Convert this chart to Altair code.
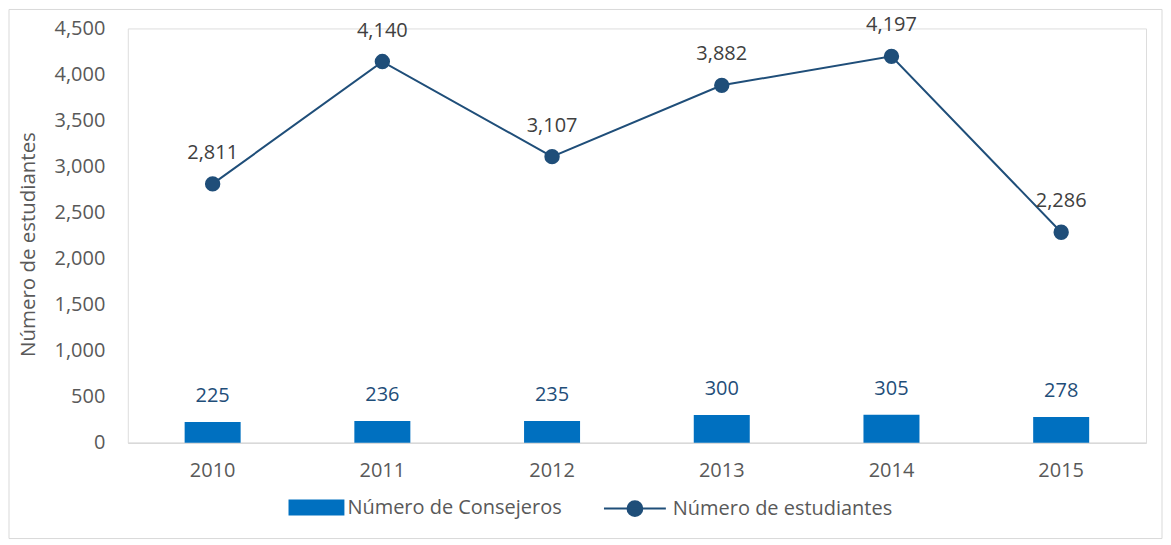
import altair as alt
import pandas as pd

years = ["2010", "2011", "2012", "2013", "2014", "2015"]
consejeros = [225, 236, 235, 300, 305, 278]
estudiantes = [2811, 4140, 3107, 3882, 4197, 2286]
y_ticks = [0, 500, 1000, 1500, 2000, 2500, 3000, 3500, 4000, 4500]

BAR = "#0070C0"
NAVY = "#1F4E79"
FONT = "Open Sans"
FS = 20

df = pd.DataFrame({
    "year": years,
    "consejeros": consejeros,
    "estudiantes": estudiantes,
    "s1": ["Número de Consejeros"] * len(years),
    "s2": ["Número de estudiantes"] * len(years),
})

x = alt.X("year:N", title=None,
          scale=alt.Scale(paddingInner=0.67, paddingOuter=0.335),
          axis=alt.Axis(labelAngle=0, ticks=False, domainColor="#D9D9D9", domainWidth=1.5,
                        labelPadding=18, labelFontSize=FS, labelColor="#595959", labelFont=FONT))
yscale = alt.Scale(domain=[0, 4500], nice=False)
yaxis = alt.Axis(values=y_ticks, format=",.0f", grid=False, ticks=False, domain=False,
                 labelPadding=23, labelFontSize=FS, labelColor="#595959", labelFont=FONT,
                 title="Número de estudiantes", titleFontSize=20.5, titleFont=FONT,
                 titleColor="#595959", titleFontWeight="normal",
                 titleX=-99, titleY=216, titleBaseline="middle", titleAlign="center")

rect_path = "M-1,-0.2857H1V0.2857H-1Z"
line_path = "M-1,0H1M0.24,0A0.24,0.24,0,1,1,-0.24,0A0.24,0.24,0,1,1,0.24,0Z"

frame = alt.Chart(alt.Data(values=[{}])).mark_rect(fill=None, stroke="#D9D9D9", strokeWidth=1).encode(
    x=alt.value(-119), x2=alt.value(1036), y=alt.value(-19), y2=alt.value(511)
)

bars = alt.Chart(df).mark_bar().encode(
    x=x,
    y=alt.Y("consejeros:Q", scale=yscale, axis=yaxis),
    color=alt.Color("s1:N", scale=alt.Scale(range=[BAR]),
                    legend=alt.Legend(title=None, orient="none", legendX=161, legendY=452,
                                      symbolType=rect_path, symbolSize=3136, symbolStrokeWidth=0,
                                      labelFontSize=FS, labelFont=FONT, labelColor="#595959",
                                      labelOffset=3, labelLimit=400, padding=0)),
)

bar_labels = alt.Chart(df).mark_text(dy=-26, fontSize=FS, font=FONT, color=NAVY).encode(
    x=x, y=alt.Y("consejeros:Q", scale=yscale), text=alt.Text("consejeros:Q", format=",.0f")
)

line = alt.Chart(df).mark_line(
    strokeWidth=2,
    point=alt.OverlayMarkDef(filled=True, fill=NAVY, size=180),
).encode(
    x=x,
    y=alt.Y("estudiantes:Q", scale=yscale),
    stroke=alt.Stroke("s2:N", scale=alt.Scale(range=[NAVY]),
                      legend=alt.Legend(title=None, orient="none", legendX=476, legendY=449,
                                        symbolType=line_path, symbolSize=3844, symbolStrokeWidth=2,
                                        symbolFillColor=NAVY,
                                        labelFontSize=FS, labelFont=FONT, labelColor="#595959",
                                        labelOffset=6, labelLimit=400, padding=0)),
)

line_labels = alt.Chart(df).mark_text(dy=-31, fontSize=FS, font=FONT, color="#404040").encode(
    x=x, y=alt.Y("estudiantes:Q", scale=yscale), text=alt.Text("estudiantes:Q", format=",.0f")
)

chart = alt.layer(frame, bars, bar_labels, line, line_labels).resolve_legend(
    color="independent", stroke="independent"
).properties(
    width=1020, height=415, padding=0
).configure_view(stroke=None).configure(background="white")

chart.save("out.html", embed_options={"renderer": "svg", "actions": False})
